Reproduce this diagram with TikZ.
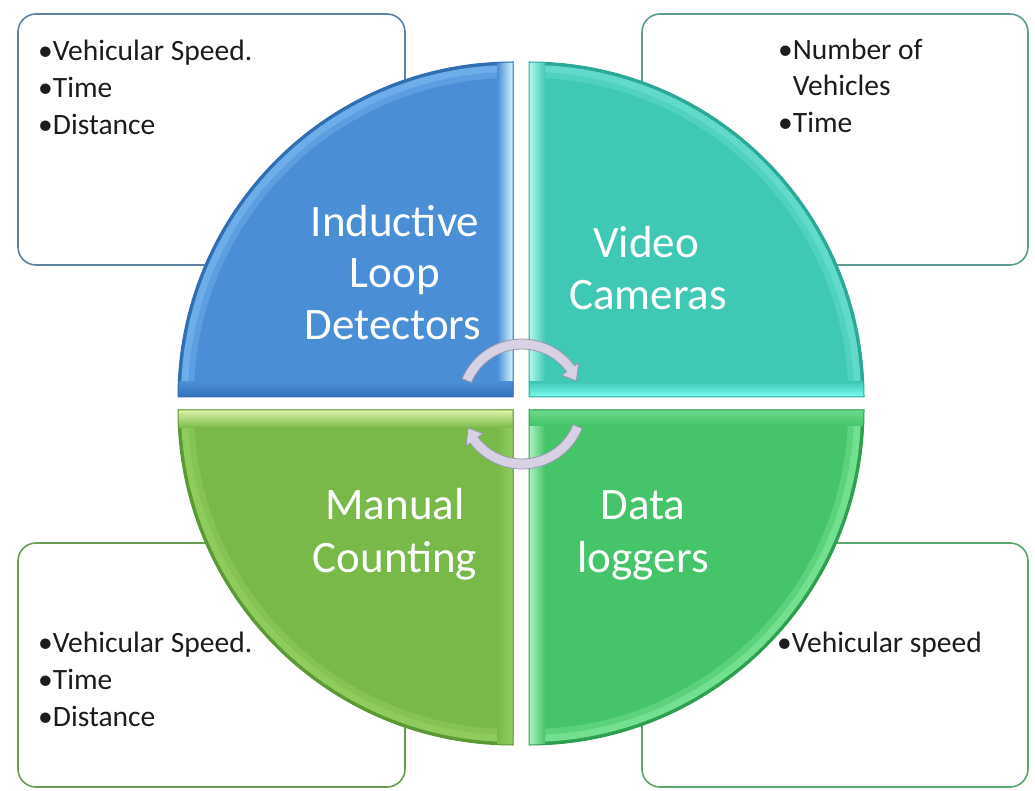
\documentclass[tikz,border=0pt]{standalone}
\usepackage{fontspec}
\setmainfont{Carlito}
\usetikzlibrary{arrows.meta}

% palette
\definecolor{blueBase}{HTML}{4A8ED6}
\definecolor{blueBand}{HTML}{6DAEEA}
\definecolor{blueRim}{HTML}{2F6FB2}
\definecolor{blueHi}{HTML}{D4F6FF}
\definecolor{blueLo}{HTML}{3170B8}
\definecolor{tealBase}{HTML}{3FC9B5}
\definecolor{tealBand}{HTML}{62DACA}
\definecolor{tealRim}{HTML}{2AA898}
\definecolor{tealHi}{HTML}{B4F8F0}
\definecolor{tealLo}{HTML}{7EFAF0}
\definecolor{leafBase}{HTML}{78B94A}
\definecolor{leafBand}{HTML}{8FCC5E}
\definecolor{leafRim}{HTML}{5A9934}
\definecolor{leafHi}{HTML}{DDF3A8}
\definecolor{leafSide}{HTML}{92CF62}
\definecolor{mintBase}{HTML}{45C46A}
\definecolor{mintBand}{HTML}{72E08E}
\definecolor{mintRim}{HTML}{2E9E50}
\definecolor{mintHi}{HTML}{AEF2BE}
\definecolor{mintTop}{HTML}{6CD88A}
\definecolor{cycleFill}{HTML}{D6D2E4}
\definecolor{cycleEdge}{HTML}{9A96AE}
\definecolor{frameBlue}{HTML}{5C82A6}
\definecolor{frameTeal}{HTML}{5C9C94}
\definecolor{frameLeaf}{HTML}{6A9C52}
\definecolor{frameMint}{HTML}{5AA66C}
\definecolor{ink}{HTML}{1C1C1C}

\tikzset{
  infobox/.style={rounded corners=18pt, line width=1.6pt, fill=white},
  bullet/.style={anchor=base west, inner sep=0pt, text=ink, font=\fontsize{29.5}{35}\selectfont},
  label/.style={anchor=base, inner sep=0pt, text=white, font=\fontsize{45}{52}\selectfont},
  cyclearrow/.style={fill=cycleFill, draw=cycleEdge, line width=0.8pt, line join=round}
}

\begin{document}
\begin{tikzpicture}[x=1pt,y=1pt]
\useasboundingbox (0,0) rectangle (1035,790);
\fill[white] (0,0) rectangle (1035,790);

% ---- info boxes behind the pie ----
\draw[infobox, draw=frameBlue] (18,525) rectangle (405,776);
\draw[infobox, draw=frameTeal] (642,525) rectangle (1028,776);
\draw[infobox, draw=frameLeaf] (18,3) rectangle (405,247);
\draw[infobox, draw=frameMint] (642,3) rectangle (1028,247);

% ---- upper left quadrant (blue) ----
\begin{scope}
  \clip (513,393) -- (513,728) arc[start angle=90, end angle=180, radius=335] -- cycle;
  \fill[blueRim] (513,393) circle[radius=335];
  \fill[blueBand] (513,393) circle[radius=332];
  \fill[blueBand!50!blueBase] (513,393) circle[radius=325];
  \shade[left color=blueBase, right color=blueHi] (497,393) rectangle (513,728);
  \shade[top color=blueBase, bottom color=blueLo] (178,393) rectangle (513,408);
  \begin{scope}
    \clip (178,408) rectangle (497,728);
    \fill[blueBase] (513,393) circle[radius=319];
  \end{scope}
\end{scope}
\draw[blueRim, line width=1pt] (513,393) -- (513,728) arc[start angle=90, end angle=180, radius=335] -- cycle;

% ---- upper right quadrant (teal) ----
\begin{scope}
  \clip (529,393) -- (529,728) arc[start angle=90, end angle=0, radius=335] -- cycle;
  \fill[tealRim] (529,393) circle[radius=335];
  \fill[tealBand] (529,393) circle[radius=332];
  \fill[tealBand!50!tealBase] (529,393) circle[radius=325];
  \shade[left color=tealHi, right color=tealBase] (529,393) rectangle (545,728);
  \shade[top color=tealBase, bottom color=tealLo] (529,393) rectangle (864,408);
  \begin{scope}
    \clip (545,408) rectangle (864,728);
    \fill[tealBase] (529,393) circle[radius=319];
  \end{scope}
\end{scope}
\draw[tealRim, line width=1pt] (529,393) -- (529,728) arc[start angle=90, end angle=0, radius=335] -- cycle;

% ---- lower left quadrant (leaf green) ----
\begin{scope}
  \clip (513,380) -- (513,45) arc[start angle=270, end angle=180, radius=335] -- cycle;
  \fill[leafRim] (513,380) circle[radius=335];
  \fill[leafBand] (513,380) circle[radius=332];
  \fill[leafBand!50!leafBase] (513,380) circle[radius=325];
  \shade[left color=leafBase, right color=leafSide] (497,45) rectangle (513,380);
  \shade[top color=leafHi, bottom color=leafBase] (178,362) rectangle (513,380);
  \begin{scope}
    \clip (178,45) rectangle (497,362);
    \fill[leafBase] (513,380) circle[radius=319];
  \end{scope}
\end{scope}
\draw[leafRim, line width=1pt] (513,380) -- (513,45) arc[start angle=270, end angle=180, radius=335] -- cycle;

% ---- lower right quadrant (mint green) ----
\begin{scope}
  \clip (529,380) -- (529,45) arc[start angle=270, end angle=360, radius=335] -- cycle;
  \fill[mintRim] (529,380) circle[radius=335];
  \fill[mintBand] (529,380) circle[radius=332];
  \fill[mintBand!50!mintBase] (529,380) circle[radius=325];
  \shade[left color=mintHi, right color=mintBase] (529,45) rectangle (545,380);
  \shade[top color=mintTop, bottom color=mintBase] (529,364) rectangle (864,380);
  \begin{scope}
    \clip (545,45) rectangle (864,364);
    \fill[mintBase] (529,380) circle[radius=319];
  \end{scope}
\end{scope}
\draw[mintRim, line width=1pt] (529,380) -- (529,45) arc[start angle=270, end angle=360, radius=335] -- cycle;

% ---- quadrant titles ----
\node[label] (ind1) at (395,553) {Inductive};
\node[label] (ind2) at (395,502) {Loop};
\node[label] (ind3) at (393,450) {Detectors};
\node[label] (vid1) at (646,532) {Video};
\node[label] (vid2) at (648,480) {Cameras};
\node[label] (man1) at (395,270) {Manual};
\node[label] (man2) at (395,218) {Counting};
\node[label] (dat1) at (643,270) {Data};
\node[label] (dat2) at (643,218) {loggers};

% ---- bullet lists ----
\node[bullet] (tl1) at (38,729) {•Vehicular Speed.};
\node[bullet] (tl2) at (38,692) {•Time};
\node[bullet] (tl3) at (38,655) {•Distance};

\node[bullet] (tr1) at (778,730) {•Number of};
\node[bullet] (tr2) at (778,694) {\phantom{•}Vehicles};
\node[bullet] (tr3) at (778,657) {•Time};

\node[bullet] (bl1) at (38,138) {•Vehicular Speed.};
\node[bullet] (bl2) at (38,101) {•Time};
\node[bullet] (bl3) at (38,64) {•Distance};

\node[bullet] (br1) at (777,138) {•Vehicular speed};

% ---- cycle arrows at the hub ----
\coordinate (hub) at (522,386);
\draw[cyclearrow]
  ([shift={(157:65)}]hub) arc[start angle=157, end angle=36, radius=65]
  -- ([shift={(36:70)}]hub) -- ([shift={(23:59)}]hub) -- ([shift={(36:49)}]hub)
  -- ([shift={(36:55)}]hub) arc[start angle=36, end angle=157, radius=55] -- cycle;
\draw[cyclearrow]
  ([shift={(-22:65)}]hub) arc[start angle=-22, end angle=-143, radius=65]
  -- ([shift={(-143:70)}]hub) -- ([shift={(-156:59)}]hub) -- ([shift={(-143:49)}]hub)
  -- ([shift={(-143:55)}]hub) arc[start angle=-143, end angle=-22, radius=55] -- cycle;
\end{tikzpicture}
\end{document}
